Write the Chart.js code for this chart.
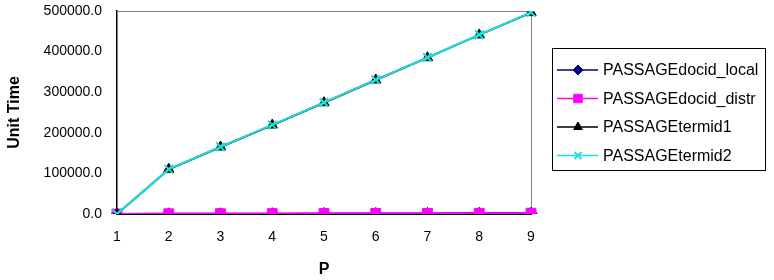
<!DOCTYPE html>
<html>
<head>
<meta charset="utf-8">
<script src="https://cdn.jsdelivr.net/npm/chart.js@4"></script>
<style>
  html, body { margin: 0; padding: 0; background: #fff; }
  #wrap { width: 774px; height: 280px; }
</style>
</head>
<body>
<div id="wrap"><canvas id="chart" width="774" height="280"></canvas></div>
<script>
/* ===== Datos ===== */
const pLabels = ["1", "2", "3", "4", "5", "6", "7", "8", "9"];
const yTicks = [0, 100000, 200000, 300000, 400000, 500000];

const docidLocal = [0, 400, 600, 800, 1000, 1200, 1400, 1600, 1800];
const docidDistr = [0, 500, 700, 900, 1100, 1300, 1500, 1700, 1900];
const termid1 = [0, 110000, 165000, 219000, 274000, 330000, 385000, 441000, 496000];
const termid2 = [0, 110500, 165500, 219500, 274500, 330500, 385500, 441500, 496500];

const names = ["PASSAGEdocid_local", "PASSAGEdocid_distr", "PASSAGEtermid1", "PASSAGEtermid2"];
const colors = ["#000080", "#FF00FF", "#000000", "#1EE0E0"];
const markers = ["rectRot", "rect", "triangle", "crossRot"];
const sizes = [6, 7, 6, 6];

const FONT = "Liberation Sans, Arial, sans-serif";

/* ===== Plugins ===== */
// marco gris arriba y a la derecha
const frame = {
  id: "frame",
  beforeDatasetsDraw(chart) {
    const { ctx, chartArea: a } = chart;
    ctx.save();
    ctx.strokeStyle = "#808080";
    ctx.lineWidth = 1;
    ctx.beginPath();
    ctx.moveTo(a.left, a.top + 0.5);
    ctx.lineTo(a.right + 0.5, a.top + 0.5);
    ctx.lineTo(a.right + 0.5, a.bottom);
    ctx.stroke();
    ctx.restore();
  },
};

// leyenda tipo Excel (línea + marcador)
const boxLegend = {
  id: "boxLegend",
  afterDraw(chart) {
    const ctx = chart.ctx;
    const x0 = 552, y0 = 48, w = 213, h = 122;
    ctx.save();
    ctx.fillStyle = "#fff";
    ctx.fillRect(x0, y0, w, h);
    ctx.strokeStyle = "#000";
    ctx.lineWidth = 1;
    ctx.strokeRect(x0 + 0.5, y0 + 0.5, w, h);
    ctx.font = "16px " + FONT;
    ctx.textBaseline = "middle";
    names.forEach((n, i) => {
      const y = y0 + 22 + i * 28.5;
      ctx.strokeStyle = colors[i];
      ctx.lineWidth = 1.5;
      ctx.beginPath();
      ctx.moveTo(557, y);
      ctx.lineTo(598, y);
      ctx.stroke();
      ctx.fillStyle = colors[i];
      ctx.strokeStyle = colors[i];
      const bw = i === 3 ? 2 : 1;
      ctx.lineWidth = bw;
      Chart.helpers.drawPoint(ctx, { pointStyle: markers[i], radius: sizes[i] - 1, rotation: 0, borderWidth: bw }, 578, y);
      ctx.fillStyle = "#000";
      ctx.fillText(n, 603, y + 1);
    });
    ctx.restore();
  },
};

function makeDs(i, data, order) {
  return {
    label: names[i],
    data,
    borderColor: colors[i],
    backgroundColor: colors[i],
    pointStyle: markers[i],
    pointRadius: sizes[i],
    pointBorderWidth: i === 3 ? 2 : 1,
    pointBackgroundColor: colors[i],
    pointBorderColor: colors[i],
    borderWidth: 2,
    tension: 0,
    order,
  };
}

/* ===== Chart ===== */
new Chart(document.getElementById("chart").getContext("2d"), {
  type: "line",
  data: {
    labels: pLabels,
    datasets: [
      makeDs(0, docidLocal, 4),
      makeDs(1, docidDistr, 3),
      makeDs(2, termid1, 2),
      makeDs(3, termid2, 1),
    ],
  },
  options: {
    responsive: false,
    animation: false,
    layout: { padding: { left: 0, right: 243, top: 11, bottom: 0 } },
    plugins: {
      legend: { display: false },
      tooltip: { enabled: false },
    },
    scales: {
      x: {
        offset: false,
        grid: { display: false, drawTicks: true, tickLength: 5, color: "#000" },
        border: { color: "#000", width: 1 },
        ticks: { color: "#000", font: { family: FONT, size: 14 }, padding: 10, maxRotation: 0 },
        title: { display: true, text: "P", color: "#000", font: { family: FONT, size: 16, weight: "bold" }, padding: { top: 19, bottom: 1 } },
        afterFit: (s) => { s.height = 66; s.paddingLeft = 0; s.paddingRight = 0; },
      },
      y: {
        min: 0,
        max: 500000,
        afterBuildTicks: (s) => { s.ticks = yTicks.map((v) => ({ value: v })); },
        grid: { display: false, drawTicks: true, tickLength: 6, color: "#000" },
        border: { color: "#000", width: 1.5 },
        ticks: {
          color: "#000",
          font: { family: FONT, size: 14 },
          padding: 9,
          callback: (v) => Number(v).toFixed(1),
        },
        title: { display: true, text: "Unit Time", color: "#000", font: { family: FONT, size: 16, weight: "bold" }, padding: { top: 5, bottom: 10 } },
        afterFit: (s) => { s.width = 117; s.paddingTop = 0; s.paddingBottom = 0; },
      },
    },
  },
  plugins: [frame, boxLegend],
});
</script>
</body>
</html>
